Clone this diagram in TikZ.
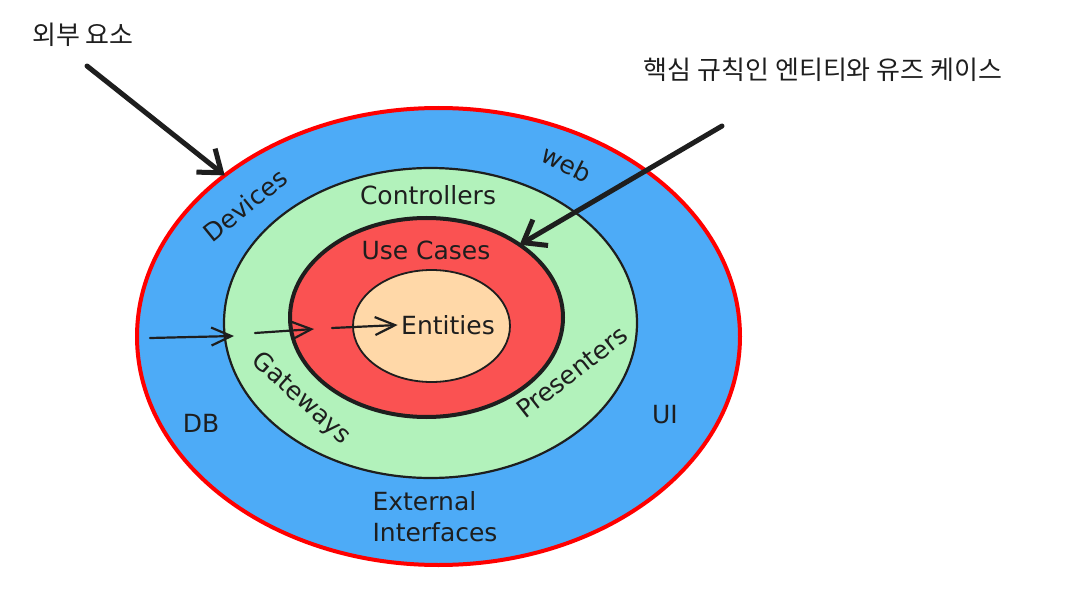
\documentclass[tikz,border=0pt]{standalone}
\usepackage{fontspec}
\setmainfont{DejaVu Sans}
\newfontfamily\krfont{Noto Sans CJK KR}
\usetikzlibrary{arrows.meta, positioning, shapes.geometric}
\definecolor{ringBlue}{HTML}{4DABF7}
\definecolor{ringGreen}{HTML}{B2F2BB}
\definecolor{ringRed}{HTML}{FA5252}
\definecolor{ringPeach}{HTML}{FFD8A8}
\definecolor{inkDark}{HTML}{1E1E1E}
\definecolor{edgeRed}{HTML}{FF0000}

\tikzset{
  ring/.style={ellipse, draw=inkDark, inner sep=0pt, outer sep=0pt},
  layertext/.style={font=\fontsize{25}{31}\selectfont, text=inkDark},
  kortext/.style={font=\krfont\fontsize{26}{30}\selectfont, text=inkDark},
  bigarrow/.style={-{Straight Barb[length=20pt, width=30pt]}, line width=5pt,
    draw=inkDark, line cap=round},
  smallarrow/.style={-{Straight Barb[length=20pt, width=18pt]}, line width=2.2pt,
    draw=inkDark, line cap=round}
}

\begin{document}
\begin{tikzpicture}[x=1pt, y=-1pt]
    \useasboundingbox (0,0) rectangle (1077,591);

    % 원
    \node[ring, draw=edgeRed, line width=4pt, fill=ringBlue,
      minimum width=603pt, minimum height=457pt] (outer) at (438.5,336.5) {};
    \node[ring, line width=2.2pt, fill=ringGreen,
      minimum width=413pt, minimum height=310pt] (adapter) at (430.5,323) {};
    \node[ring, line width=4pt, fill=ringRed,
      minimum width=273pt, minimum height=199pt] (usecase) at (426.5,317.5) {};
    \node[ring, line width=1.8pt, fill=ringPeach,
      minimum width=157pt, minimum height=112pt] (entity) at (431.5,326) {};

    % 층 이름
    \node[layertext, rotate=39] (devices) at (245,205) {Devices};
    \node[layertext, rotate=-27] (web) at (567,164) {web};
    \node[layertext] (controllers) at (428,195) {Controllers};
    \node[layertext] (usecases) at (426,250) {Use Cases};
    \node[layertext] (entities) at (448,325) {Entities};
    \node[layertext, rotate=-42] (gateways) at (301,399) {Gateways};
    \node[layertext, rotate=38] (presenters) at (572,372) {Presenters};
    \node[layertext] (db) at (201,423) {DB};
    \node[layertext] (ui) at (665,415) {UI};
    \node[layertext, align=left, anchor=west] (external) at (369,517) {External\\Interfaces};

    % 설명
    \node[kortext] (outside) at (83,35) {외부 요소};
    \node[kortext] (core) at (823,70) {핵심 규칙인 엔티티와 유즈 케이스};

    % 화살표
    \coordinate (outsidestart) at (87,66);
    \coordinate (corestart) at (722,126);
    \draw[bigarrow] (outsidestart) -- (outer.143);
    \draw[bigarrow] (corestart) -- (usecase.38);

    % 의존 방향
    \coordinate (dep0) at (150,338);
    \coordinate (dep1) at (234,336);
    \coordinate (dep2) at (255,333);
    \coordinate (dep3) at (314,329);
    \coordinate (dep4) at (332,328);
    \draw[smallarrow] (dep0) -- (dep1);
    \draw[smallarrow] (dep2) -- (dep3);
    \draw[smallarrow] (dep4) -- (entities.west);
  \end{tikzpicture}
\end{document}
